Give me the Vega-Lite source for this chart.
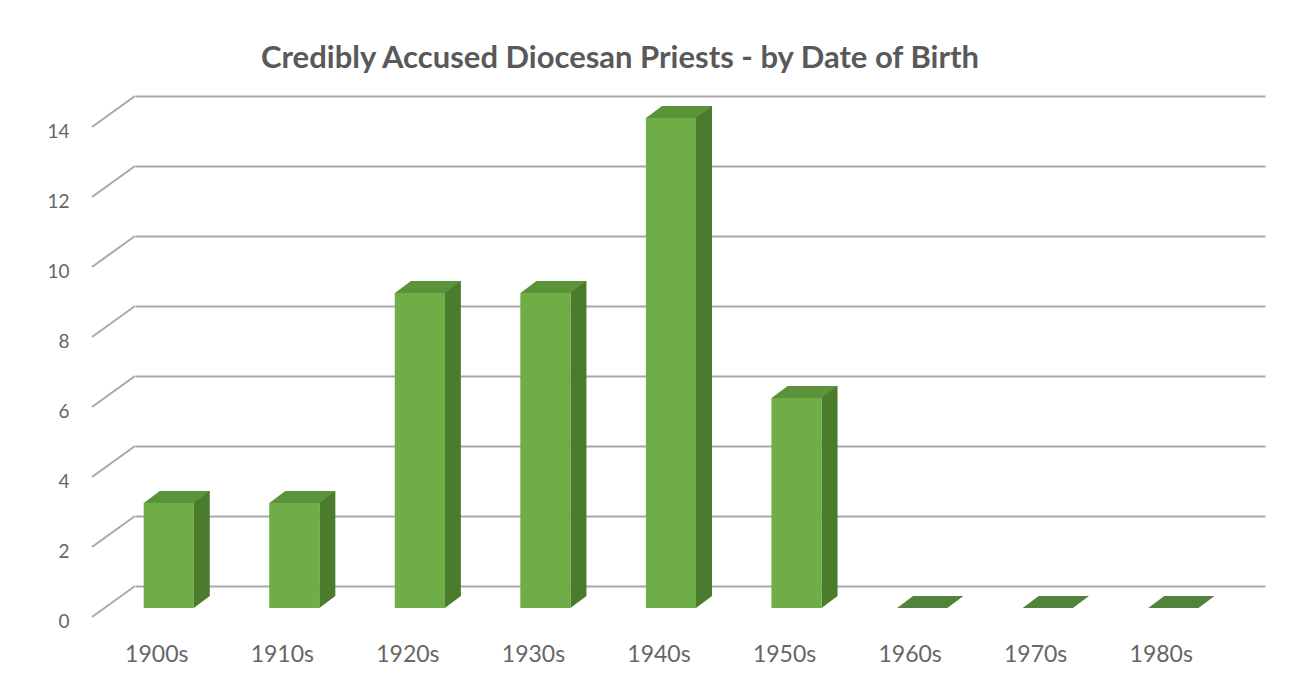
{
  "$schema": "https://vega.github.io/schema/vega-lite/v6.json",
  "width": 1130,
  "height": 490,
  "autosize": {"type": "none"},
  "padding": {"left": 135, "top": 96, "right": 33, "bottom": 91},
  "background": "white",
  "config": {
    "view": {"stroke": null},
    "font": "Lato",
    "axisX": {
      "domain": false, "ticks": false, "grid": false,
      "labelAngle": 0, "labelPadding": 57, "labelOffset": -41,
      "labelFontSize": 23, "labelFont": "Lato", "labelColor": "#666666"
    },
    "axisY": {
      "domain": false, "ticks": false, "grid": true,
      "gridColor": "#a8a8a8", "gridWidth": 2,
      "labelPadding": 66, "labelOffset": 35,
      "labelFontSize": 19, "labelFont": "Lato", "labelColor": "#666666"
    }
  },
  "title": {
    "text": "Credibly Accused Diocesan Priests - by Date of Birth",
    "anchor": "middle",
    "dx": -80,
    "offset": -4,
    "baseline": "alphabetic",
    "font": "Lato",
    "fontSize": 31,
    "fontWeight": "bold",
    "color": "#595959"
  },
  "datasets": {
    "bars": [
      {"decade": "1900s", "count": 3},
      {"decade": "1910s", "count": 3},
      {"decade": "1920s", "count": 9},
      {"decade": "1930s", "count": 9},
      {"decade": "1940s", "count": 14},
      {"decade": "1950s", "count": 6},
      {"decade": "1960s", "count": 0},
      {"decade": "1970s", "count": 0},
      {"decade": "1980s", "count": 0}
    ],
    "ticks": [
      {"tick": 0}, {"tick": 2}, {"tick": 4}, {"tick": 6},
      {"tick": 8}, {"tick": 10}, {"tick": 12}, {"tick": 14}
    ]
  },
  "resolve": {"scale": {"x": "independent"}},
  "layer": [
    {
      "data": {"name": "bars"},
      "layer": [
        {
          "mark": {"type": "bar", "color": "#4b7b2d", "width": 16, "xOffset": 4, "x2Offset": 4, "yOffset": 10, "y2Offset": 10},
          "encoding": {
            "x": {"field": "decade", "type": "nominal", "sort": null, "title": null,
              "scale": {"type": "band", "paddingInner": 0, "paddingOuter": 0}},
            "y": {"field": "count", "type": "quantitative", "title": null,
              "scale": {"domain": [0, 14], "nice": false},
              "axis": {"values": [0, 2, 4, 6, 8, 10, 12, 14]}},
            "y2": {"datum": 0}
          }
        },
        {
          "mark": {"type": "point", "shape": "M-4,22L-4,10L12,10Z", "size": 4, "filled": true, "opacity": 1, "strokeWidth": 0, "color": "#4b7b2d"},
          "encoding": {
            "x": {"field": "decade", "type": "nominal", "sort": null, "title": null, "scale": {"type": "band", "paddingInner": 0, "paddingOuter": 0}},
            "y": {"datum": 0, "type": "quantitative", "title": null}
          }
        },
        {
          "mark": {"type": "bar", "color": "#6fad46", "width": {"band": 0.4}, "xOffset": -29, "x2Offset": -29, "yOffset": 22, "y2Offset": 22},
          "encoding": {
            "x": {"field": "decade", "type": "nominal", "sort": null, "title": null, "scale": {"type": "band", "paddingInner": 0, "paddingOuter": 0}},
            "y": {"field": "count", "type": "quantitative", "title": null},
            "y2": {"datum": 0}
          }
        },
        {
          "mark": {"type": "point", "shape": "M-54,22L-4,22L12,10L-38,10Z", "size": 4, "filled": true, "opacity": 1, "strokeWidth": 0},
          "encoding": {
            "x": {"field": "decade", "type": "nominal", "sort": null, "title": null, "scale": {"type": "band", "paddingInner": 0, "paddingOuter": 0}},
            "y": {"field": "count", "type": "quantitative", "title": null},
            "color": {"condition": {"test": "datum.count == 0", "value": "#52833a"}, "value": "#5a9339"}
          }
        }
      ]
    },
    {
      "data": {"name": "ticks"},
      "mark": {"type": "rule", "color": "#a8a8a8", "strokeWidth": 2, "y2Offset": 31},
      "encoding": {
        "x": {"datum": 1, "type": "quantitative", "scale": {"domain": [0, 1], "range": [-43, 0]}, "axis": null},
        "x2": {"datum": 0},
        "y": {"field": "tick", "type": "quantitative", "title": null},
        "y2": {"field": "tick"}
      }
    }
  ]
}
